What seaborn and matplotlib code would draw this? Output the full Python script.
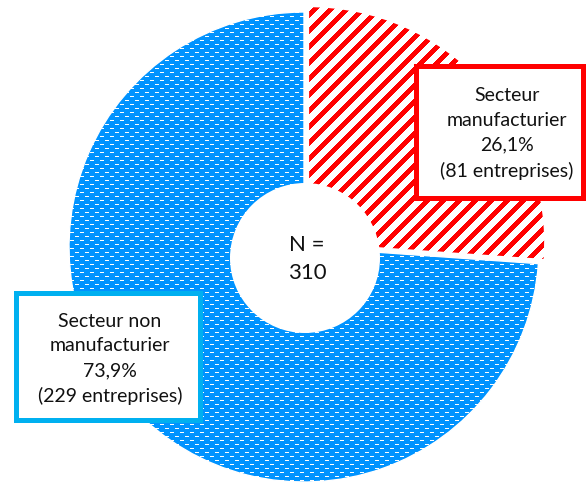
import numpy as np
import matplotlib.pyplot as plt
import seaborn as sns
from matplotlib.patches import Circle, Rectangle

# données
etiquettes = ["Secteur\nmanufacturier", "Secteur non\nmanufacturier"]
entreprises = [81, 229]
total = sum(entreprises)

sns.set_theme(style="white")
plt.rcParams["font.family"] = ["Lato", "DejaVu Sans"]

W, H = 588, 482
fig = plt.figure(figsize=(W / 100, H / 100), dpi=100)
ax = fig.add_axes([0, 0, 1, 1])

rouge = "#FF0000"
bleu = "#0093FF"
bleu_cadre = "#00B0F0"

wedges, _ = ax.pie(entreprises, center=(304, 235), radius=235, startangle=90,
                   counterclock=False, explode=[7, 0], colors=["white", bleu])
wedges[0].set(facecolor="white", edgecolor="none", linewidth=0)
wedges[1].set(edgecolor="white", linewidth=1)

# motifs : rayures rouges et tirets blancs
rows, cols = np.mgrid[0:H, 0:W]
rayures = ((cols + rows) % 16) < 7
tex_r = np.zeros((H, W, 4))
tex_r[rayures] = [1, 0, 0, 1]
im_r = ax.imshow(tex_r, extent=(0, W, 0, H), origin="upper",
                 interpolation="nearest", zorder=2)
im_r.set_clip_path(wedges[0])

dash = (rows % 4 == 0) & (((cols + ((rows // 4) % 2) * 5) % 10) < 4)
tex_b = np.zeros((H, W, 4))
tex_b[dash] = [1, 1, 1, 1]
im_b = ax.imshow(tex_b, extent=(0, W, 0, H), origin="upper",
                 interpolation="nearest", zorder=2)
im_b.set_clip_path(wedges[1])

# trou central
ax.add_patch(Circle((305, 224), 75, facecolor="white", edgecolor="none", zorder=3))
ax.text(307, 223, f"N =\n{total}", ha="center", va="center", fontsize=16,
        linespacing=1.5, color="#111111", zorder=5)

# étiquettes encadrées
pcts = [100 * v / total for v in entreprises]
textes = [f"{e}\n{p:.1f}".replace(".", ",") + f"%\n({v} entreprises)"
          for e, p, v in zip(etiquettes, pcts, entreprises)]

ax.add_patch(Rectangle((415.5, 284.5), 167, 132, facecolor="white",
                       edgecolor=rouge, linewidth=3.6, zorder=4))
ax.text(507, 348.5, textes[0], ha="center", va="center", fontsize=14,
        linespacing=1.55, color="#111111", zorder=5)

ax.add_patch(Rectangle((15.5, 62.5), 184, 127, facecolor="white",
                       edgecolor=bleu_cadre, linewidth=3.6, zorder=4))
ax.text(110, 123, textes[1], ha="center", va="center", fontsize=14,
        linespacing=1.55, color="#111111", zorder=5)

ax.set_xlim(0, W)
ax.set_ylim(0, H)
ax.set_aspect("equal")
ax.axis("off")

fig.savefig("out.png", dpi=100)
